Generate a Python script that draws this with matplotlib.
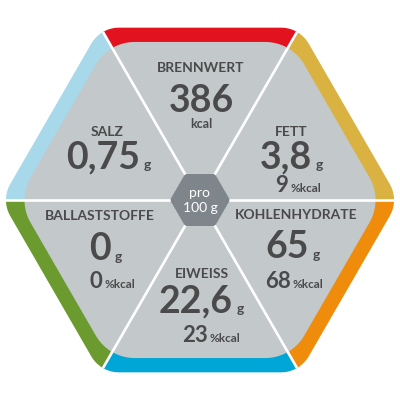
import numpy as np
import matplotlib
matplotlib.use("Agg")
import matplotlib.pyplot as plt
from matplotlib.patches import Polygon

# ---- data ----
labels = ["BRENNWERT", "FETT", "KOHLENHYDRATE", "EIWEISS", "BALLASTSTOFFE", "SALZ"]
values = ["386", "3,8", "65", "22,6", "0", "0,75"]
units = ["kcal", "g", "g", "g", "g", "g"]
pct_values = ["", "9", "68", "23", "0", ""]
pct_unit = "%kcal"
center_text = ["pro", "100 g"]
band_colors = ["#E3121F", "#D9B241", "#F08C0B", "#00A6D5", "#6B9B2F", "#A8D9EB"]

# ---- style ----
GREY = "#C3C8CB"
TEXT = "#4A4A4A"
CENTER = "#7F868B"
FONT = "Lato"

fig = plt.figure(figsize=(4, 4), dpi=100)
ax = fig.add_axes([0, 0, 1, 1])
ax.set_xlim(0, 400)
ax.set_ylim(400, 0)
ax.axis("off")

CX, CY = 200, 200


def hex_vertices(R):
    ang = np.deg2rad(np.arange(0, 360, 60))
    return [(CX + R * np.cos(a), CY - R * np.sin(a)) for a in ang]


def rounded_poly(verts, r, n=16):
    pts = []
    N = len(verts)
    for i in range(N):
        p0 = np.array(verts[i - 1]); p1 = np.array(verts[i]); p2 = np.array(verts[(i + 1) % N])
        d1 = (p0 - p1) / np.linalg.norm(p0 - p1)
        d2 = (p2 - p1) / np.linalg.norm(p2 - p1)
        ang = np.arccos(np.clip(np.dot(d1, d2), -1, 1))
        t = r / np.tan(ang / 2)
        a = p1 + d1 * t
        b = p1 + d2 * t
        bis = (d1 + d2) / np.linalg.norm(d1 + d2)
        c = p1 + bis * (r / np.sin(ang / 2))
        a0 = np.arctan2(a[1] - c[1], a[0] - c[0])
        a1 = np.arctan2(b[1] - c[1], b[0] - c[0])
        da = (a1 - a0 + np.pi) % (2 * np.pi) - np.pi
        for s in np.linspace(0, 1, n):
            th = a0 + da * s
            pts.append((c[0] + r * np.cos(th), c[1] + r * np.sin(th)))
    return pts


R_OUT = 199
outer = rounded_poly(hex_vertices(R_OUT), 32)
outer_patch = Polygon(outer, closed=True, facecolor="none", edgecolor="none")
ax.add_patch(outer_patch)

# colored wedges: edge order top, top-right, bottom-right, bottom, bottom-left, top-left
big = hex_vertices(260)
edge_pairs = [(1, 2), (0, 1), (5, 0), (4, 5), (3, 4), (2, 3)]
for (i, j), col in zip(edge_pairs, band_colors):
    w = Polygon([(CX, CY), big[i], big[j]], closed=True, facecolor=col, edgecolor="none", zorder=1)
    ax.add_patch(w)
    w.set_clip_path(outer_patch)

# inner grey hexagon
inner = rounded_poly(hex_vertices(182.5), 45)
ax.add_patch(Polygon(inner, closed=True, facecolor=GREY, edgecolor="none", zorder=1.5))

# white separators
for vx, vy in hex_vertices(R_OUT + 10):
    ln, = ax.plot([CX, vx], [CY, vy], color="white", lw=1.9, solid_capstyle="butt", zorder=2)
    ln.set_clip_path(outer_patch)

# center hexagon
ax.add_patch(Polygon(rounded_poly(hex_vertices(30), 4), closed=True, facecolor=CENTER,
                     edgecolor="none", zorder=3))
ax.text(CX, 197, center_text[0], ha="center", va="baseline", color="white", fontsize=10,
        family=FONT, zorder=4)
ax.text(CX, 212, center_text[1], ha="center", va="baseline", color="white", fontsize=10,
        family=FONT, zorder=4)

# text layout: (label x, label baseline, number x, number baseline, pct x, pct baseline)
layout = [
    (201, 72, 201, 112, None, None),
    (291, 136, 286, 168, 282, 192),
    (296, 219, 287, 258, 278, 288),
    (202, 278, 196, 312, 195, 342),
    (100, 220, 100, 260, 96, 288),
    (107, 136, 103, 168, None, None),
]

fig.canvas.draw()
inv = ax.transData.inverted()
renderer = fig.canvas.get_renderer()


def right_edge(t):
    bb = t.get_window_extent(renderer)
    return inv.transform((bb.x1, bb.y0))[0]


for k in range(6):
    lx, ly, nx, ny, px, py = layout[k]
    ax.text(lx, ly, labels[k], ha="center", va="baseline", color=TEXT, fontsize=10,
            family=FONT, fontweight="bold", zorder=4)
    t = ax.text(nx, ny, values[k], ha="center", va="baseline", color=TEXT, fontsize=27,
                family=FONT, fontweight="bold", zorder=4)
    if units[k] == "kcal":
        ax.text(nx, ny + 16, units[k], ha="center", va="baseline", color=TEXT, fontsize=9,
                family=FONT, fontweight="bold", zorder=4)
    else:
        xr = right_edge(t)
        ax.text(xr + 4, ny + 1, units[k], ha="left", va="baseline", color=TEXT, fontsize=10,
                family=FONT, fontweight="bold", zorder=4)
    if pct_values[k]:
        tp = ax.text(px, py, pct_values[k], ha="center", va="baseline", color=TEXT, fontsize=16,
                     family=FONT, fontweight="bold", zorder=4)
        xr = right_edge(tp)
        ax.text(xr + 2, py, pct_unit, ha="left", va="baseline", color=TEXT, fontsize=8.5,
                family=FONT, fontweight="bold", zorder=4)

fig.savefig("out.png", dpi=100)
